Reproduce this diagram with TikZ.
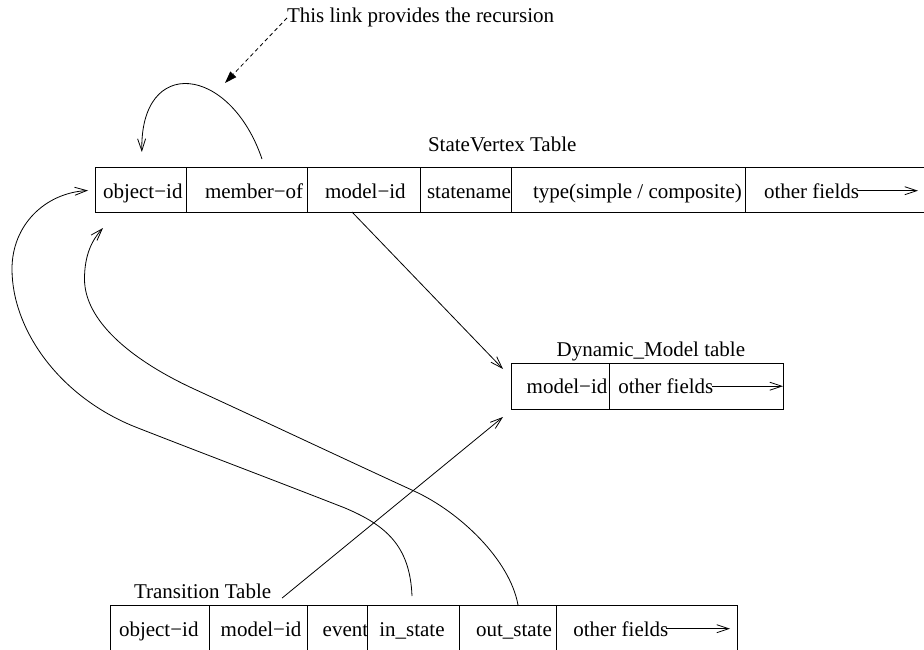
\documentclass[tikz,border=0pt]{standalone}
\usepackage{fontspec}
\setmainfont{Liberation Serif}
\usetikzlibrary{arrows.meta,calc}
\begin{document}
\begin{tikzpicture}[x=1pt,y=-1pt,
  line width=0.8pt,
  every node/.style={font=\fontsize{21}{25}\selectfont},
  cell/.style={draw, rectangle, inner sep=0pt, outer sep=0pt, anchor=north west},
  svcell/.style={cell, minimum height=45pt},
  dycell/.style={cell, minimum height=46pt},
  trcell/.style={cell, minimum height=60pt},
  txt/.style={anchor=base west, inner sep=0pt, outer sep=0pt},
  arr/.style={-{Straight Barb[length=12pt,width=8pt]}},
  dasharr/.style={dash pattern=on 4pt off 3pt, -{Triangle[length=12pt,width=8pt]}}
]
\clip (0,0) rectangle (924,650);

% StateVertex table
\node[svcell, minimum width=91.7pt]  (sv1) at (95,167) {};
\node[svcell, minimum width=120.6pt] (sv2) at (186.7,167) {};
\node[svcell, minimum width=113.4pt] (sv3) at (307.3,167) {};
\node[svcell, minimum width=90.6pt]  (sv4) at (420.7,167) {};
\node[svcell, minimum width=234pt]   (sv5) at (511.3,167) {};
\node[svcell, minimum width=190pt]   (sv6) at (745.3,167) {};
\node[txt] (sv1t) at (103,198) {object−id};
\node[txt] (sv2t) at (205,198) {member−of};
\node[txt] (sv3t) at (325,198) {model−id};
\node[txt] (sv4t) at (427,198) {statename};
\node[txt] (sv5t) at (533,198) {type(simple / composite)};
\node[txt] (sv6t) at (764,198) {other fields};
\coordinate (sv6end) at (918,191);
\draw[arr] ([xshift=-2pt]sv6t.east) -- (sv6t.east -| sv6end);
\node[txt] (svlbl) at (428,152) {StateVertex Table};

% Dynamic_Model table
\node[dycell, minimum width=98pt]  (dy1) at (511,363) {};
\node[dycell, minimum width=174pt] (dy2) at (609,363) {};
\node[txt] (dy1t) at (526.7,393.5) {model−id};
\node[txt] (dy2t) at (618.3,393.5) {other fields};
\draw[arr] ([xshift=-1pt]dy2t.east) -- (dy2t.east -| dy2.east);
\node[txt] (dylbl) at (556.7,356) {Dynamic\_Model table};

% Transition table
\node[trcell, minimum width=99.3pt]  (tr1) at (110,605) {};
\node[trcell, minimum width=98pt]    (tr2) at (209.3,605) {};
\node[trcell, minimum width=60.4pt]  (tr3) at (307.3,605) {};
\node[trcell, minimum width=91.6pt]  (tr4) at (367.7,605) {};
\node[trcell, minimum width=97.4pt]  (tr5) at (459.3,605) {};
\node[trcell, minimum width=180.6pt] (tr6) at (556.7,605) {};
\node[txt] (tr1t) at (119,636) {object−id};
\node[txt] (tr2t) at (220.7,636) {model−id};
\node[txt] (tr3t) at (322.7,636) {event};
\node[txt] (tr4t) at (379.3,636) {in\_state};
\node[txt] (tr5t) at (476,636) {out\_state};
\node[txt] (tr6t) at (573.3,636) {other fields};
\coordinate (tr6end) at (730,629);
\draw[arr] ([xshift=-2pt]tr6t.east) -- (tr6t.east -| tr6end);
\node[txt] (trlbl) at (134,598) {Transition Table};

% annotation
\node[txt] (title) at (287,23) {This link provides the recursion};
\coordinate (rtip) at (225,83);
\draw[dasharr] (title.west) -- (rtip);

% recursion link member-of -> object-id
\draw[arr] ($(sv2.north)+(15,-8)$) .. controls (230,65) and (140,55) .. ($(sv1.north)+(1,-15)$);

% model-id -> Dynamic_Model
\draw[arr] ($(sv3.south)+(-12,0)$) -- ($(dy1.north west)+(-8,6)$);
% Transition -> Dynamic_Model
\draw[arr] ($(trlbl.base east)+(11,0)$) -- ($(dy1.south west)+(-8,8)$);

% in_state -> object-id (outer curve)
\draw[arr] ($(tr4.north)+(-1.5,-9)$) .. controls (410,545) and (385,525) .. (345,508)
  .. controls (276,481) and (207,455) .. (138,428)
  .. controls (60,398) and (12,330) .. (12,269)
  .. controls (12,225) and (45,193) .. ($(sv1.west)+(-7,1)$);

% out_state -> object-id (inner curve)
\draw[arr] ($(tr5.north)+(10,0)$) .. controls (510,560) and (460,512) .. (414,491)
  .. controls (340,457) and (267,422.5) .. (193,388.5)
  .. controls (129.5,359) and (84.5,320) .. (84.5,279)
  .. controls (84.5,255) and (92,240) .. ($(sv1.south west)+(8,16)$);
\end{tikzpicture}
\end{document}
